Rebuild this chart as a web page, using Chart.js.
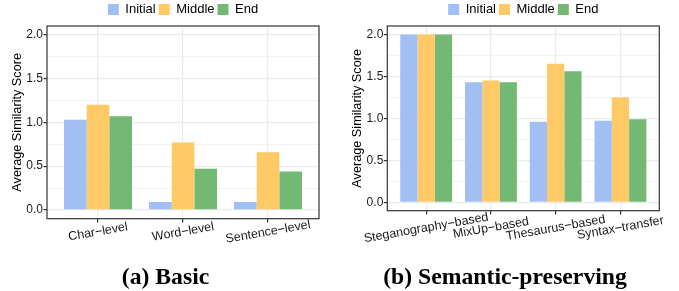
<!DOCTYPE html>
<html>
<head>
<meta charset="utf-8">
<script src="https://cdn.jsdelivr.net/npm/chart.js@4.4.0/dist/chart.umd.min.js"></script>
<style>
  body { margin: 0; background: #fff; }
  #wrap { position: relative; width: 679px; height: 291px; }
  canvas { position: absolute; top: 0; }
</style>
</head>
<body>
<div id="wrap">
  <canvas id="basicChart" width="340" height="291" style="left:0"></canvas>
  <canvas id="semanticChart" width="323" height="291" style="left:340px"></canvas>
</div>
<script>
var seriesNames = ["Initial", "Middle", "End"];
var seriesColors = ["#a2bff4", "#ffc966", "#73b973"];

var basicCategories = ["Char\u2212level", "Word\u2212level", "Sentence\u2212level"];
var basicInitial = [1.03, 0.09, 0.09];
var basicMiddle = [1.2, 0.77, 0.66];
var basicEnd = [1.07, 0.47, 0.44];

var semanticCategories = ["Steganography\u2212based", "MixUp\u2212based", "Thesaurus\u2212based", "Syntax\u2212transfer"];
var semanticInitial = [2.0, 1.43, 0.96, 0.97];
var semanticMiddle = [2.0, 1.45, 1.65, 1.25];
var semanticEnd = [2.0, 1.43, 1.56, 0.99];

var yTickValues = [0, 0.25, 0.5, 0.75, 1, 1.25, 1.5, 1.75, 2];
var yMin = -0.1, yMax = 2.1;

Chart.defaults.font.family = "'Liberation Sans', Arial, sans-serif";
Chart.defaults.color = "#1a1a1a";

function isMajor(v) {
  return Math.abs(v % 0.5) < 1e-9;
}

// frame, slanted category labels and the sub-caption
var panelDecor = {
  id: "panelDecor",
  afterDatasetsDraw: function (chart) {
    var a = chart.chartArea, ctx = chart.ctx;
    ctx.save();
    ctx.strokeStyle = "#333";
    ctx.lineWidth = 1.2;
    ctx.strokeRect(a.left, a.top, a.right - a.left, a.bottom - a.top);
    ctx.restore();
  },
  afterDraw: function (chart, args, opts) {
    var ctx = chart.ctx, xs = chart.scales.x, a = chart.chartArea;
    ctx.save();
    ctx.font = "12.5px 'Liberation Sans'";
    ctx.fillStyle = "#1a1a1a";
    ctx.textAlign = "center";
    ctx.textBaseline = "middle";
    opts.labels.forEach(function (lab, i) {
      ctx.save();
      ctx.translate(xs.getPixelForValue(i), a.bottom + opts.labelDy);
      ctx.rotate(-10 * Math.PI / 180);
      ctx.fillText(lab, 0, 0);
      ctx.restore();
    });
    ctx.font = "bold 23.7px 'Liberation Serif'";
    ctx.fillStyle = "#000";
    ctx.textBaseline = "alphabetic";
    ctx.fillText(opts.caption, opts.captionX, 284);
    ctx.restore();
  }
};

function makeChart(id, categories, series, caption, lay) {
  var datasets = series.map(function (vals, s) {
    return {
      label: seriesNames[s],
      backgroundColor: seriesColors[s],
      borderWidth: 0,
      data: vals.map(function (v, i) { return { x: i, y: v }; })
    };
  });

  return new Chart(document.getElementById(id), {
    type: "bar",
    data: { datasets: datasets },
    plugins: [panelDecor],
    options: {
      responsive: false,
      animation: false,
      devicePixelRatio: 1,
      layout: { padding: { top: 0, left: 0, right: lay.padRight, bottom: 0 } },
      datasets: { bar: { categoryPercentage: 0.8, barPercentage: 1.0 } },
      plugins: {
        tooltip: { enabled: false },
        legend: {
          position: "top",
          fullSize: false,
          align: "center",
          labels: {
            boxWidth: 11,
            boxHeight: 11,
            padding: 3,
            color: "#000",
            font: { size: 13 }
          }
        },
        panelDecor: { labels: categories, labelDy: lay.labelDy, caption: caption, captionX: lay.captionX }
      },
      scales: {
        x: {
          type: "linear",
          min: -0.6,
          max: categories.length - 0.4,
          bounds: "data",
          offset: false,
          afterBuildTicks: function (scale) {
            scale.ticks = categories.map(function (c, i) { return { value: i }; });
          },
          afterFit: function (scale) { scale.height = lay.xHeight; },
          ticks: { display: false },
          border: { display: false },
          grid: {
            offset: false,
            color: "#ebebeb",
            lineWidth: 1.2,
            tickColor: "#333",
            tickLength: 3.7
          }
        },
        y: {
          min: yMin,
          max: yMax,
          bounds: "data",
          afterBuildTicks: function (scale) {
            scale.ticks = yTickValues.map(function (v) { return { value: v }; });
          },
          afterFit: function (scale) { scale.width = lay.yWidth; },
          ticks: {
            padding: 0.5,
            color: "#1a1a1a",
            font: { size: 12 },
            callback: function (v) { return isMajor(v) ? v.toFixed(1) : ""; }
          },
          border: { display: false },
          grid: {
            color: "#ebebeb",
            lineWidth: function (c) { return isMajor(c.tick.value) ? 1.2 : 0.6; },
            tickColor: function (c) { return isMajor(c.tick.value) ? "#333" : "rgba(0,0,0,0)"; },
            tickLength: 3.5
          },
          title: {
            display: true,
            text: "Average Similarity Score",
            color: "#000",
            font: { size: 12.7, lineHeight: 1.2 },
            padding: { top: 9.9, bottom: 0 }
          }
        }
      }
    }
  });
}

makeChart("basicChart", basicCategories, [basicInitial, basicMiddle, basicEnd], "(a) Basic",
  { yWidth: 47, xHeight: 72.3, padRight: 21, labelDy: 13.3, captionX: 165.5 });
makeChart("semanticChart", semanticCategories, [semanticInitial, semanticMiddle, semanticEnd], "(b) Semantic-preserving",
  { yWidth: 47.3, xHeight: 80.3, padRight: 3.7, labelDy: 17.3, captionX: 165 });
</script>
</body>
</html>
